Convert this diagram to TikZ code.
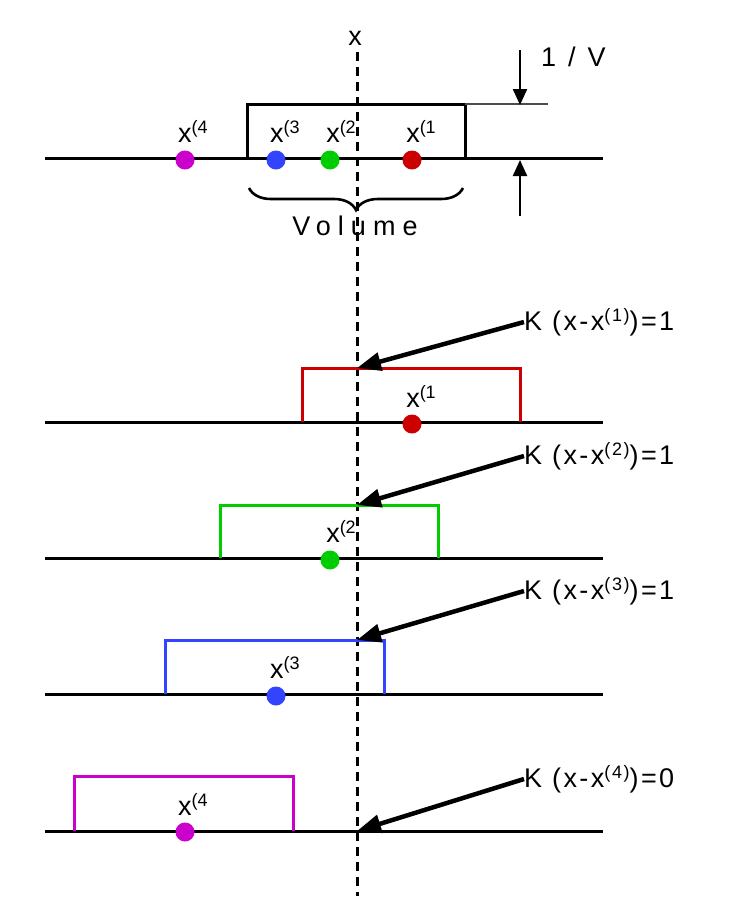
\documentclass[tikz,border=0pt]{standalone}
\usepackage{fontspec}
\setmainfont{Liberation Sans}
\usetikzlibrary{arrows.meta,decorations.pathreplacing}
\definecolor{kred}{RGB}{204,0,0}
\definecolor{kgreen}{RGB}{0,204,0}
\definecolor{kblue}{RGB}{51,68,255}
\definecolor{kmag}{RGB}{204,0,204}
\newcommand{\xsup}[1]{x\raisebox{9pt}{\fontsize{18}{18}\selectfont(#1}}
\newcommand{\klab}[2]{\addfontfeature{LetterSpace=9}K (x-x\raisebox{9pt}{\fontsize{18}{18}\selectfont(#1)})=#2}
\begin{document}
\begin{tikzpicture}[x=1pt,y=-1pt,
  txt/.style={font=\fontsize{27}{30}\selectfont, inner sep=0pt},
  base/.style={line width=3pt, black},
  box/.style={line width=3pt},
  dot/.style={circle, fill=#1, minimum size=19pt, inner sep=0pt},
  pointer/.style={line width=4.5pt, -{Triangle[length=24pt,width=18pt]}},
  dim/.style={line width=2.2pt, -{Triangle[length=16pt,width=14pt]}}]
\useasboundingbox (0,0) rectangle (730,906);
% dashed axis
\coordinate (dtop) at (357,52);
\coordinate (dbot) at (357,896);
\draw[line width=3pt, dash pattern=on 9pt off 6pt] (dtop) -- (dbot);
\node[txt] (xlab) at (355,38) {x};
% top section
\coordinate (b0l) at (45,158);
\coordinate (b0r) at (603,158);
\draw[base] (b0l) -- (b0r);
\draw[box] (247,158) rectangle (465,104);
\coordinate (tl1) at (465,104);
\coordinate (tl2) at (548,104);
\draw[line width=1.2pt, black!70] (tl1) -- (tl2);
\coordinate (a1s) at (520,50);
\coordinate (a1e) at (520,105);
\coordinate (a2s) at (520,216);
\coordinate (a2e) at (520,160);
\draw[dim] (a1s) -- (a1e);
\draw[dim] (a2s) -- (a2e);
\node[txt, anchor=west] (vlab) at (541,57) {1\hspace{12pt}/\hspace{12pt}V};
\node[dot=kmag] (d4) at (185,160) {};
\node[dot=kblue] (d3) at (276,160) {};
\node[dot=kgreen] (d2) at (330,160) {};
\node[dot=kred] (d1) at (412,160) {};
\node[txt] (l4) at (193,131) {\xsup{4}};
\node[txt] (l3) at (285,131) {\xsup{3}};
\node[txt] (l2) at (341,131) {\xsup{2}};
\node[txt] (l1) at (421,131) {\xsup{1}};
\coordinate (brl) at (249,188);
\coordinate (brr) at (463,188);
\draw[line width=2.6pt, decorate, decoration={brace, mirror, amplitude=22pt}] (brl) -- (brr);
\node[txt] (vol) at (355,226) {\addfontfeature{LetterSpace=26}Volume};
% row 1
\draw[base] (45,422) -- (603,422);
\draw[box, kred] (302,422) -- (302,368) -- (520,368) -- (520,422);
\node[dot=kred] (r1d) at (412,424) {};
\node[txt] (r1l) at (421,396) {\xsup{1}};
\coordinate (r1p) at (357,368);
\node[txt, anchor=west] (k1) at (524,322) {\klab{1}{1}};
\draw[pointer] (k1.west) -- (r1p);
% row 2
\draw[base] (45,558) -- (603,558);
\draw[box, kgreen] (220,558) -- (220,505) -- (438,505) -- (438,558);
\node[dot=kgreen] (r2d) at (330,560) {};
\node[txt] (r2l) at (341,531) {\xsup{2}};
\coordinate (r2p) at (357,505);
\node[txt, anchor=west] (k2) at (524,456) {\klab{2}{1}};
\draw[pointer] (k2.west) -- (r2p);
% row 3
\draw[base] (45,694) -- (603,694);
\draw[box, kblue] (165,694) -- (165,640) -- (384,640) -- (384,694);
\node[dot=kblue] (r3d) at (276,696) {};
\node[txt] (r3l) at (285,667) {\xsup{3}};
\coordinate (r3p) at (357,640);
\node[txt, anchor=west] (k3) at (524,591) {\klab{3}{1}};
\draw[pointer] (k3.west) -- (r3p);
% row 4
\draw[base] (45,831) -- (603,831);
\draw[box, kmag] (74,831) -- (74,776) -- (293,776) -- (293,831);
\node[dot=kmag] (r4d) at (185,832) {};
\node[txt] (r4l) at (193,804) {\xsup{4}};
\coordinate (r4p) at (357,831);
\node[txt, anchor=west] (k4) at (524,779) {\klab{4}{0}};
\draw[pointer] (k4.west) -- (r4p);
\end{tikzpicture}
\end{document}
